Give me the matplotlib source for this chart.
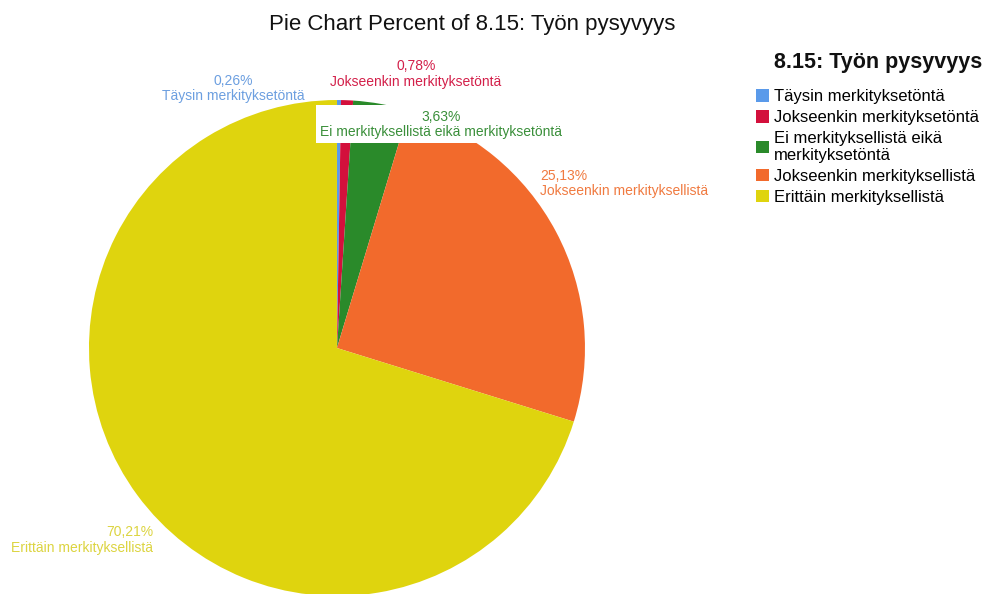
import matplotlib.pyplot as plt
from matplotlib.patches import Patch

plt.rcParams['font.family'] = ['Liberation Sans', 'DejaVu Sans']

# Response categories and their shares (%)
categories = [
    "Täysin merkityksetöntä",
    "Jokseenkin merkityksetöntä",
    "Ei merkityksellistä eikä merkityksetöntä",
    "Jokseenkin merkityksellistä",
    "Erittäin merkityksellistä",
]
legend_labels = [
    "Täysin merkityksetöntä",
    "Jokseenkin merkityksetöntä",
    "Ei merkityksellistä eikä\nmerkityksetöntä",
    "Jokseenkin merkityksellistä",
    "Erittäin merkityksellistä",
]
percents = [0.26, 0.78, 3.63, 25.13, 70.21]
percent_labels = ["0,26%", "0,78%", "3,63%", "25,13%", "70,21%"]

colors = ["#5a9aea", "#d3103c", "#2a8a2a", "#f26a2c", "#dfd40e"]
text_colors = ["#6c9fe0", "#d3204a", "#3a8f3a", "#f07a40", "#dcd440"]

fig = plt.figure(figsize=(10.02, 5.94), dpi=100)
ax = fig.add_axes([0.0888, -0.0034, 0.495, 0.835])

ax.pie(percents, colors=colors, startangle=90, counterclock=False,
       radius=1.0, wedgeprops=dict(linewidth=0))
ax.set_xlim(-1, 1)
ax.set_ylim(-1, 1)
ax.set_aspect('equal')
ax.axis('off')

# label anchors (x, y, horizontal alignment) in pie units
label_layout = [
    (-0.419, 1.048, 'center'),
    (0.319, 1.105, 'center'),
    (0.419, 0.903, 'center'),
    (0.819, 0.665, 'left'),
    (-0.742, -0.774, 'right'),
]
for i, (x, y, ha) in enumerate(label_layout):
    txt = f"{percent_labels[i]}\n{categories[i]}"
    kw = {}
    if i == 2:
        kw['bbox'] = dict(boxstyle='square,pad=0.3', facecolor='white',
                          edgecolor='none')
    ax.text(x, y, txt, ha=ha, va='center', multialignment=ha,
            fontsize=10, color=text_colors[i], linespacing=1.1,
            clip_on=False, **kw)

fig.text(0.4715, 0.9585, "Pie Chart Percent of 8.15: Työn pysyvyys",
         ha='center', va='center', fontsize=16, color='#111111')

# legend title drawn separately to get the wider gap above the entries
fig.text(0.876, 0.8955, "8.15: Työn pysyvyys", ha='center', va='center',
         fontsize=15.5, fontweight='bold', color='#111111')

handles = [Patch(facecolor=c, edgecolor='none') for c in colors]
leg = fig.legend(handles, legend_labels, loc='upper left',
                 bbox_to_anchor=(0.754, 0.8502), frameon=False,
                 fontsize=12, handlelength=0.8, handleheight=0.8,
                 handletextpad=0.3, labelspacing=0.35,
                 borderaxespad=0, borderpad=0)
for t in leg.get_texts():
    t.set_linespacing(1.15)

fig.savefig("out.png", dpi=100, facecolor='white')
